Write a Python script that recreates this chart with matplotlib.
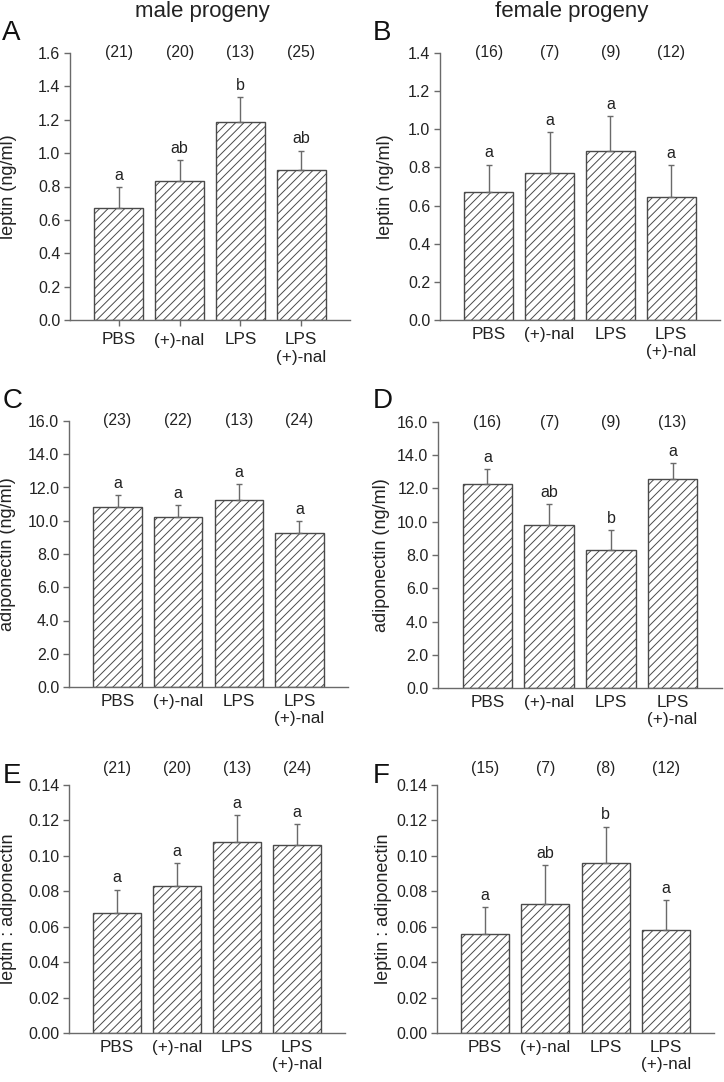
import numpy as np
import matplotlib.pyplot as plt

plt.rcParams['font.family'] = ['Liberation Sans', 'DejaVu Sans']
plt.rcParams['hatch.linewidth'] = 0.7

groups = ["PBS", "(+)-nal", "LPS", "LPS\n(+)-nal"]

# A - leptin, male
leptin_m = [0.67, 0.835, 1.185, 0.90]
leptin_m_err = [0.125, 0.125, 0.15, 0.115]
leptin_m_n = [21, 20, 13, 25]
leptin_m_sig = ["a", "ab", "b", "ab"]

# B - leptin, female
leptin_f = [0.671, 0.769, 0.888, 0.645]
leptin_f_err = [0.144, 0.215, 0.18, 0.166]
leptin_f_n = [16, 7, 9, 12]
leptin_f_sig = ["a", "a", "a", "a"]

# C - adiponectin, male
adipo_m = [10.82, 10.22, 11.26, 9.26]
adipo_m_err = [0.70, 0.72, 0.94, 0.70]
adipo_m_n = [23, 22, 13, 24]
adipo_m_sig = ["a", "a", "a", "a"]

# D - adiponectin, female
adipo_f = [12.30, 9.80, 8.32, 12.58]
adipo_f_err = [0.87, 1.28, 1.20, 0.95]
adipo_f_n = [16, 7, 9, 13]
adipo_f_sig = ["a", "ab", "b", "a"]

# E - ratio, male
ratio_m = [0.068, 0.083, 0.108, 0.106]
ratio_m_err = [0.013, 0.013, 0.015, 0.012]
ratio_m_n = [21, 20, 13, 24]
ratio_m_sig = ["a", "a", "a", "a"]

# F - ratio, female
ratio_f = [0.056, 0.073, 0.096, 0.058]
ratio_f_err = [0.015, 0.022, 0.0205, 0.017]
ratio_f_n = [15, 7, 8, 12]
ratio_f_sig = ["a", "ab", "b", "a"]

W, H = 724, 1082
fig = plt.figure(figsize=(W / 100, H / 100), dpi=100)


def px_axes(left, right, top, bottom):
    return fig.add_axes([left / W, 1 - bottom / H, (right - left) / W, (bottom - top) / H])


def panel(ax, vals, err, ns, sig, ymax, step, fmt, ylabel, label_x, n_off, xticks_len):
    x = np.arange(len(vals))
    ax.bar(x, vals, width=0.8, color='white', edgecolor='#4a4a4a', hatch='////',
           linewidth=1.0, zorder=2)
    ax.errorbar(x, vals, yerr=[np.zeros(len(vals)), err], fmt='none', ecolor='#6a6a6a',
                elinewidth=1.0, capsize=2.5, capthick=1.0, zorder=3)
    for i in range(len(vals)):
        ax.annotate(sig[i], xy=(x[i], vals[i] + err[i]), xytext=(0, 3),
                    textcoords='offset points', ha='center', va='bottom',
                    fontsize=11.5, color='#222222')
        ax.annotate("(%d)" % ns[i], xy=(x[i], ymax), xytext=(0, n_off),
                    textcoords='offset points', ha='center', va='center',
                    fontsize=11.3, color='#222222', annotation_clip=False)
    ax.set_xlim(-0.8, 3.8)
    ax.set_ylim(0, ymax)
    ticks = np.arange(0, ymax + step / 2, step)
    ax.set_yticks(ticks)
    ax.set_yticklabels([fmt % t for t in ticks])
    ax.set_xticks(x)
    ax.set_xticklabels(groups, linespacing=1.2)
    for s in ['top', 'right']:
        ax.spines[s].set_visible(False)
    for s in ['left', 'bottom']:
        ax.spines[s].set_color('#6a6a6a')
        ax.spines[s].set_linewidth(1.0)
    ax.tick_params(axis='y', direction='out', length=4, width=1, color='#6a6a6a',
                   labelsize=11.5, pad=3, labelcolor='#222222')
    ax.tick_params(axis='x', direction='out', length=xticks_len, width=1, color='#6a6a6a',
                   labelsize=12.3, pad=5, labelcolor='#222222')
    ax.set_ylabel(ylabel, fontsize=13, color='#222222')
    ax.yaxis.set_label_coords(label_x, 0.5)


axA = px_axes(70, 350, 53, 320)
panel(axA, leptin_m, leptin_m_err, leptin_m_n, leptin_m_sig, 1.6, 0.2, '%.1f',
      'leptin (ng/ml)', -0.189, 0, 4)
axB = px_axes(440, 720, 53, 320)
panel(axB, leptin_f, leptin_f_err, leptin_f_n, leptin_f_sig, 1.4, 0.2, '%.1f',
      'leptin (ng/ml)', -0.164, 0, 0)
axC = px_axes(69, 348, 421, 687)
panel(axC, adipo_m, adipo_m_err, adipo_m_n, adipo_m_sig, 16.0, 2.0, '%.1f',
      'adiponectin (ng/ml)', -0.19, 0, 0)
axD = px_axes(438, 722, 422, 688)
panel(axD, adipo_f, adipo_f_err, adipo_f_n, adipo_f_sig, 16.0, 2.0, '%.1f',
      'adiponectin (ng/ml)', -0.169, 0, 0)
axE = px_axes(69, 345, 785, 1033)
panel(axE, ratio_m, ratio_m_err, ratio_m_n, ratio_m_sig, 0.14, 0.02, '%.2f',
      'leptin : adiponectin', -0.188, 12.2, 0)
axF = px_axes(437, 714, 785, 1033)
panel(axF, ratio_f, ratio_f_err, ratio_f_n, ratio_f_sig, 0.14, 0.02, '%.2f',
      'leptin : adiponectin', -0.162, 12.2, 0)

fig.text(202 / W, 1 - 12 / H, 'male progeny', ha='center', va='center', fontsize=16, color='#222222')
fig.text(572 / W, 1 - 12 / H, 'female progeny', ha='center', va='center', fontsize=16, color='#222222')

for lbl, px, py in [('A', 2, 33), ('B', 373, 33), ('C', 3, 401), ('D', 373, 401),
                    ('E', 3, 776), ('F', 373, 776)]:
    fig.text(px / W, 1 - py / H, lbl, ha='left', va='center', fontsize=20, color='#111111')

fig.savefig('out.png', dpi=100)
